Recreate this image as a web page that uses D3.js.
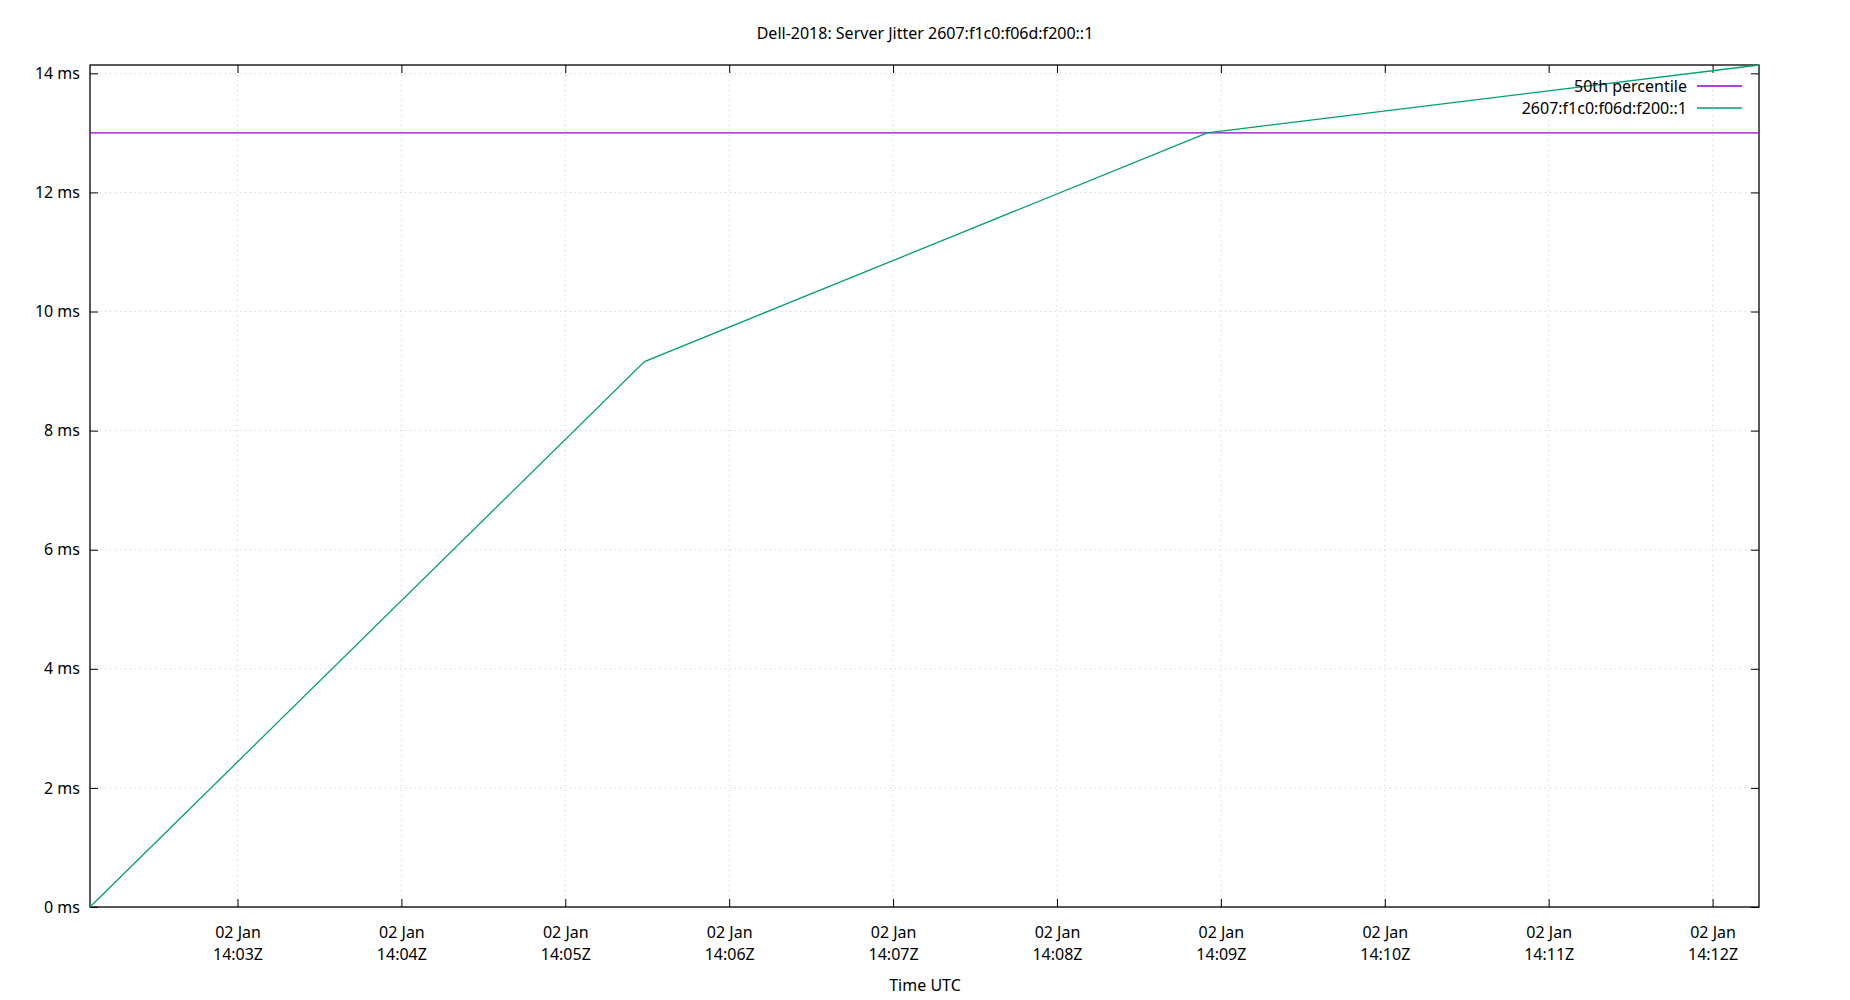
<!DOCTYPE html>
<html><head><meta charset="utf-8">
<script src="https://cdn.jsdelivr.net/npm/d3@7"></script>
<style>body{margin:0;background:#fff}text{font-family:"Noto Sans",sans-serif;fill:#000}</style>
</head><body><svg id="c" width="1850" height="1000"></svg>
<script>
const times = ["2024-01-02T14:02:06Z","2024-01-02T14:05:29Z","2024-01-02T14:08:55Z","2024-01-02T14:12:17Z"];
const jitter = [0, 9.16, 13.0, 14.14];
const median = 13.0;
const yTicks = [0,2,4,6,8,10,12,14];
const xTickTimes = ["14:03","14:04","14:05","14:06","14:07","14:08","14:09","14:10","14:11","14:12"];
const legendNames = ["50th percentile","2607:f1c0:f06d:f200::1"];
const legendColors = ["#9400d3","#009e73"];

const svg = d3.select("#c");
const L=90,R=1759,T=65,B=907;
const tp = d3.isoParse;
const x = d3.scaleUtc().domain([tp(times[0]), tp(times[times.length-1])]).range([L,R]);
const y = d3.scaleLinear().domain([0,14.14]).range([B,T]);
const xt = xTickTimes.map(t=>tp("2024-01-02T"+t+":00Z"));

const g = svg.append("g");
g.selectAll(".gx").data(xt).join("line").attr("x1",d=>x(d)).attr("x2",d=>x(d)).attr("y1",T).attr("y2",B)
 .attr("stroke","#ccc").attr("stroke-dasharray","1,4");
g.selectAll(".gy").data(yTicks).join("line").attr("x1",L).attr("x2",R).attr("y1",d=>y(d)).attr("y2",d=>y(d))
 .attr("stroke","#ccc").attr("stroke-dasharray","1,4");

const ya = svg.append("g").attr("transform",`translate(${L},0)`).call(d3.axisLeft(y).tickValues(yTicks).tickSize(-8).tickPadding(10).tickFormat(d=>d+" ms"));
const yr = svg.append("g").attr("transform",`translate(${R},0)`).call(d3.axisRight(y).tickValues(yTicks).tickSize(-8).tickFormat(""));
const xa = svg.append("g").attr("transform",`translate(0,${B})`).call(d3.axisBottom(x).tickValues(xt).tickSize(-8).tickFormat(""));
const xtop = svg.append("g").attr("transform",`translate(0,${T})`).call(d3.axisTop(x).tickValues(xt).tickSize(-8).tickFormat(""));
[ya,yr,xa,xtop].forEach(a=>{a.select(".domain").remove();a.selectAll("line").attr("stroke","#000");});
ya.selectAll("text").attr("font-size",16).attr("font-family","Noto Sans").attr("fill","#000");
xa.selectAll(".tick").each(function(d){
  const t=d3.select(this);
  t.append("text").attr("y",31).attr("text-anchor","middle").attr("font-size",16).attr("fill","#000").attr("font-family","Noto Sans").text("02 Jan");
  t.append("text").attr("y",53).attr("text-anchor","middle").attr("font-size",16).attr("fill","#000").attr("font-family","Noto Sans").text(d3.utcFormat("%H:%MZ")(d));
});
svg.append("rect").attr("x",L).attr("y",T).attr("width",R-L).attr("height",B-T).attr("fill","none").attr("stroke","#000").attr("stroke-width",1.3);

svg.append("line").attr("x1",L).attr("x2",R).attr("y1",y(median)).attr("y2",y(median)).attr("stroke","#9400d3").attr("stroke-width",1.3);
const data = times.map((t,i)=>({t:tp(t),v:jitter[i]}));
svg.append("path").datum(data).attr("fill","none").attr("stroke","#009e73").attr("stroke-width",1.3)
 .attr("d",d3.line().x(d=>x(d.t)).y(d=>y(d.v)));

const lg = svg.append("g");
legendNames.forEach((n,i)=>{
  const yy = 86 + i*22;
  lg.append("text").attr("x",1687).attr("y",yy+6).attr("text-anchor","end").attr("font-size",16).text(n);
  lg.append("line").attr("x1",1697).attr("x2",1742).attr("y1",yy).attr("y2",yy).attr("stroke",legendColors[i]).attr("stroke-width",1.3);
});
svg.append("text").attr("x",925).attr("y",39).attr("text-anchor","middle").attr("font-size",16).text("Dell-2018: Server Jitter 2607:f1c0:f06d:f200::1");
svg.append("text").attr("x",925).attr("y",991).attr("text-anchor","middle").attr("font-size",16).text("Time UTC");
</script></body></html>
